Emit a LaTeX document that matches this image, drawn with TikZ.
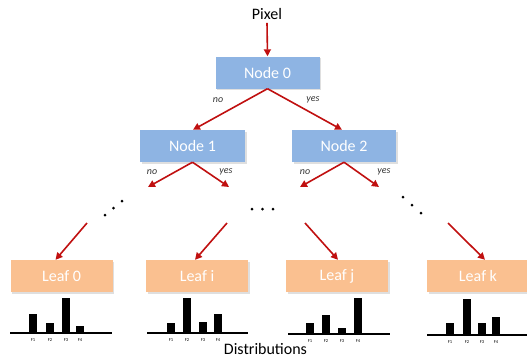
\documentclass[tikz,border=0pt]{standalone}
\usepackage{fontspec}
\setmainfont{Carlito}
\usetikzlibrary{arrows.meta,shadows}
\definecolor{nodeblue}{RGB}{142,180,227}
\definecolor{leaforange}{RGB}{250,192,144}
\definecolor{arrowred}{RGB}{192,16,16}
\tikzset{
  treebox/.style={draw=none, minimum width=104pt, minimum height=32pt, inner sep=0pt,
    text=white, font=\fontsize{16}{18}\selectfont,
    drop shadow={opacity=0.25, shadow xshift=1.5pt, shadow yshift=-1.5pt}},
  bluebox/.style={treebox, fill=nodeblue},
  leafbox/.style={treebox, fill=leaforange, minimum width=102pt},
  redarrow/.style={draw=arrowred, line width=1.6pt, -{Triangle[length=7pt,width=7pt]}},
  branchlab/.style={font=\fontsize{10}{11}\selectfont\itshape, text=black!80, inner sep=0pt},
  flab/.style={font=\fontsize{4.5}{5}\selectfont, inner sep=0pt},
  dotmark/.style={fill=black, circle, inner sep=0pt, minimum size=3pt},
}
\begin{document}
\begin{tikzpicture}[x=1pt,y=-1pt]
\useasboundingbox (0,0) rectangle (527,357);
% title
\node[font=\fontsize{16}{18}\selectfont, inner sep=0pt] (pixel) at (267,14) {Pixel};
% nodes
\node[bluebox] (n0) at (267.5,72.5) {Node 0};
\node[bluebox, minimum width=105pt] (n1) at (192.5,146) {Node 1};
\node[bluebox] (n2) at (344,146) {Node 2};
% leaves
\node[leafbox] (l0) at (61.5,276) {Leaf 0};
\node[leafbox] (li) at (197,276) {Leaf i};
\node[leafbox] (lj) at (337,276) {Leaf j};
\node[leafbox] (lk) at (478,276) {Leaf k};
% arrows top
\draw[redarrow] (pixel.south) ++(0,3) coordinate (ps) -- (n0.north);
\draw[redarrow] (n0.south) -- ([xshift=0.5pt]n1.north);
\draw[redarrow] (n0.south) -- ([xshift=-2pt]n2.north);
\node[branchlab] (lab0no) at (218,100) {no};
\node[branchlab] (lab0yes) at (313,100) {yes};
% arrows level 2
\coordinate (e1a) at (148,187);
\coordinate (e1b) at (229,187);
\coordinate (e2a) at (300,187);
\coordinate (e2b) at (379,187);
\draw[redarrow] (n1.south) -- (e1a);
\draw[redarrow] (n1.south) -- (e1b);
\draw[redarrow] (n2.south) -- (e2a);
\draw[redarrow] (n2.south) -- (e2b);
\node[branchlab] (lab1no) at (152,172) {no};
\node[branchlab] (lab1yes) at (226,172) {yes};
\node[branchlab] (lab2no) at (305,172) {no};
\node[branchlab] (lab2yes) at (384,172) {yes};
% dots
\node[dotmark] (da1) at (105,215) {};
\node[dotmark] (da2) at (113.5,208) {};
\node[dotmark] (da3) at (122,201) {};
\node[dotmark] (db1) at (252,209) {};
\node[dotmark] (db2) at (262.5,209) {};
\node[dotmark] (db3) at (273,209) {};
\node[dotmark] (dc1) at (403,197) {};
\node[dotmark] (dc2) at (412,205) {};
\node[dotmark] (dc3) at (421,213) {};
% leaf arrows
\coordinate (s0) at (87,223);
\coordinate (si) at (227,223);
\coordinate (sj) at (305,223);
\coordinate (sk) at (448,223);
\draw[redarrow] (s0) -- ([xshift=-6pt]l0.north);
\draw[redarrow] (si) -- ([xshift=-2pt]li.north);
\draw[redarrow] (sj) -- ([xshift=1pt]lj.north);
\draw[redarrow] (sk) -- ([xshift=7pt]lk.north);
% histograms
\draw[line width=1.8pt] (10,333) -- (112,333);
\foreach \x/\t/\l in {29/314/F1,46/323/F2,62/298/F3,76/326/F4}{
  \fill (\x,\t) rectangle (\x+8,333);
  \node[flab] (h0\l) at (\x+4,340) {\l};
}
\draw[line width=1.8pt] (147,333) -- (248,333);
\foreach \x/\t/\l in {167/323/F1,183/298/F2,199/322/F3,214/314/F4}{
  \fill (\x,\t) rectangle (\x+8,333);
  \node[flab] (hi\l) at (\x+4,340) {\l};
}
\draw[line width=1.8pt] (288,334) -- (390,334);
\foreach \x/\t/\l in {306/323/F1,322/315/F2,338/328/F3,354/298/F4}{
  \fill (\x,\t) rectangle (\x+8,334);
  \node[flab] (hj\l) at (\x+4,341) {\l};
}
\draw[line width=1.8pt] (427,335) -- (527,335);
\foreach \x/\t/\l in {446/323/F1,463/299/F2,478/323/F3,492/317/F4}{
  \fill (\x,\t) rectangle (\x+8,335);
  \node[flab] (hk\l) at (\x+4,342) {\l};
}
\node[font=\fontsize{16}{18}\selectfont, inner sep=0pt, anchor=base] (dist) at (265.5,354) {Distributions};
\end{tikzpicture}
\end{document}
